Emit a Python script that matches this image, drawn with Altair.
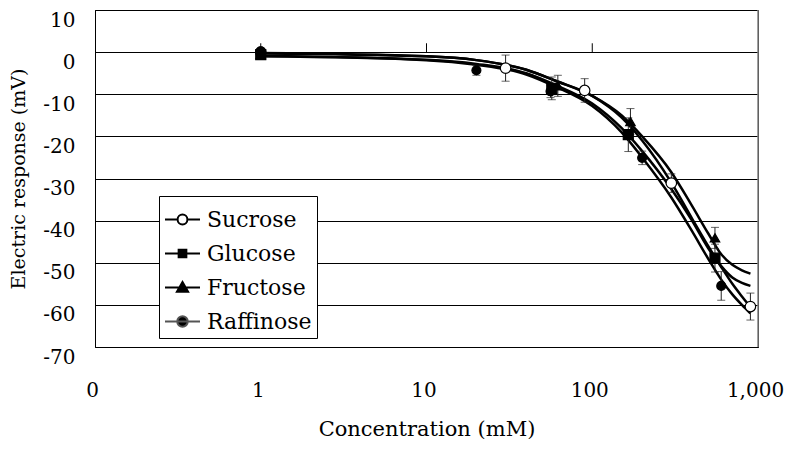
import altair as alt
import pandas as pd

series = ["Sucrose", "Glucose", "Fructose", "Raffinose"]

# measured points (concentration mM, response mV, error mV)
suc_conc = [1, 30, 90, 300, 900]
suc_resp = [0.0, -3.8, -9.1, -31.1, -60.4]
suc_err = [0.0, 3.1, 2.8, 2.2, 3.2]
glu_conc = [1, 57, 165, 550]
glu_resp = [-0.6, -8.6, -19.6, -48.9]
glu_err = [0.0, 2.7, 4.0, 3.3]
fru_conc = [1, 62, 170, 550]
fru_resp = [-0.6, -8.0, -16.5, -44.1]
fru_err = [0.0, 2.5, 3.1, 2.5]
raf_conc = [1, 20, 56, 200, 600]
raf_resp = [0.2, -4.3, -9.3, -25.1, -55.5]
raf_err = [0.0, 1.2, 1.5, 1.6, 3.4]

# fitted curves
curve_conc = [1, 10, 20, 40, 60, 100, 150, 200, 300, 400, 500, 600, 700, 800, 900]
suc_curve = [-0.2, -1.0, -1.9, -4.2, -6.8, -10.4, -15.5, -21.0, -31.0, -39.5, -46.0, -51.0, -55.0, -58.0, -60.5]
glu_curve = [-0.9, -1.8, -2.8, -5.0, -7.8, -12.2, -18.0, -23.5, -32.5, -40.0, -46.5, -50.8, -53.5, -54.8, -55.5]
fru_curve = [-0.3, -1.0, -1.9, -4.2, -6.8, -10.4, -15.0, -20.0, -28.5, -36.5, -43.0, -48.0, -50.5, -51.8, -52.6]
raf_curve = [-1.0, -1.9, -3.0, -5.3, -8.2, -12.8, -19.0, -25.0, -34.5, -42.5, -49.0, -54.0, -57.5, -60.0, -62.0]

x_label_values = [0.1, 1, 10, 100, 1000]
y_label_values = [-70, -60, -50, -40, -30, -20, -10, 0, 10]
zero_tick_conc = [1, 10, 100]
right_edge_conc = [1000]

pts = []
for name, cs, rs, es in [("Sucrose", suc_conc, suc_resp, suc_err),
                         ("Glucose", glu_conc, glu_resp, glu_err),
                         ("Fructose", fru_conc, fru_resp, fru_err),
                         ("Raffinose", raf_conc, raf_resp, raf_err)]:
    for c, r, e in zip(cs, rs, es):
        pts.append({"series": name, "conc": c, "resp": r, "err": e, "lo": r - e, "hi": r + e})
pts = pd.DataFrame(pts)

crv = []
for name, vals in [("Sucrose", suc_curve), ("Glucose", glu_curve),
                   ("Fructose", fru_curve), ("Raffinose", raf_curve)]:
    for c, v in zip(curve_conc, vals):
        crv.append({"series": name, "conc": c, "resp": v})
crv = pd.DataFrame(crv)

ticks = pd.DataFrame({"conc": zero_tick_conc, "y0": [0] * 3, "y1": [2.1] * 3})
edge = pd.DataFrame({"conc": right_edge_conc, "y0": [-70], "y1": [10]})

FONT = "DejaVu Serif"
FS = 20

xscale = alt.Scale(type="log", domain=[0.1, 1000])
yscale = alt.Scale(domain=[-70, 10])

xaxis = alt.Axis(values=x_label_values,
                 labelExpr="datum.value < 1 ? '0' : format(datum.value, ',')",
                 ticks=False, domain=False, grid=False, labelPadding=33, labelOffset=-3,
                 labelFlush=False, labelOverlap=False,
                 title="Concentration (mM)", titlePadding=18, titleFontSize=21)
yaxis = alt.Axis(values=y_label_values, labelExpr="'' + datum.value",
                 ticks=False, domain=True, domainColor="black", grid=True, gridColor="black",
                 gridWidth=1, gridOpacity=1, labelPadding=20, labelBaseline="top", labelOffset=0,
                 labelFlush=False, labelOverlap=False,
                 title="Electric response (mV)", titlePadding=14, titleFontSize=19)

X = alt.X("conc:Q", scale=xscale, axis=xaxis)
Y = alt.Y("resp:Q", scale=yscale, axis=yaxis)

base_pts = alt.Chart(pts)

curves = alt.Chart(crv).mark_line(color="black", strokeWidth=2.5, interpolate="monotone").encode(
    x=X, y=Y, detail="series:N")

zero_ticks = alt.Chart(ticks).mark_rule(color="black", strokeWidth=1).encode(
    x=alt.X("conc:Q", scale=xscale), y=alt.Y("y0:Q", scale=yscale), y2="y1:Q")

right_edge = alt.Chart(edge).mark_rule(color="#808080", strokeWidth=1.5).encode(
    x=alt.X("conc:Q", scale=xscale), y=alt.Y("y0:Q", scale=yscale), y2="y1:Q")

err_pts = base_pts.transform_filter("datum.err > 0")
err_rule = err_pts.mark_rule(color="#222222", strokeWidth=1).encode(
    x=alt.X("conc:Q", scale=xscale), y=alt.Y("lo:Q", scale=yscale), y2="hi:Q")
err_lo = err_pts.mark_tick(color="#222222", thickness=1, size=8, orient="horizontal").encode(
    x=alt.X("conc:Q", scale=xscale), y=alt.Y("lo:Q", scale=yscale))
err_hi = err_pts.mark_tick(color="#222222", thickness=1, size=8, orient="horizontal").encode(
    x=alt.X("conc:Q", scale=xscale), y=alt.Y("hi:Q", scale=yscale))

points = base_pts.mark_point(filled=True, stroke="black", strokeWidth=1.2, opacity=1).encode(
    x=alt.X("conc:Q", scale=xscale),
    y=alt.Y("resp:Q", scale=yscale),
    shape=alt.Shape("series:N", scale=alt.Scale(domain=series,
                    range=["circle", "square", "triangle-up", "circle"]), legend=None),
    fill=alt.Fill("series:N", scale=alt.Scale(domain=series,
                  range=["white", "black", "black", "black"]), legend=None),
    size=alt.Size("series:N", scale=alt.Scale(domain=series, range=[110, 80, 120, 120]), legend=None),
)

leg_paths = [
    "M-1,0H-0.28M0.28,0H1M-0.28,0A0.28,0.28 0 1,0 0.28,0A0.28,0.28 0 1,0 -0.28,0Z",
    "M-1,0H1M-0.22,-0.22H0.22V0.22H-0.22Z",
    "M-1,0H1M0,-0.32L0.32,0.24H-0.32Z",
    "M-1,0H1M-0.3,0A0.3,0.3 0 1,0 0.3,0A0.3,0.3 0 1,0 -0.3,0Z",
]
leg = alt.Legend(title=None, orient="none", legendX=64, legendY=186, fillColor="white",
                 strokeColor="black", padding=5, labelFont=FONT, labelFontSize=22,
                 labelColor="black", symbolSize=1225, symbolStrokeWidth=2,
                 symbolOpacity=1, rowPadding=4, labelOffset=6)
legend_layer = base_pts.transform_filter("datum.conc < 0").mark_point(
    filled=True, strokeWidth=2, opacity=1).encode(
    x=alt.X("conc:Q", scale=xscale),
    y=alt.Y("resp:Q", scale=yscale),
    shape=alt.Shape("series:N", scale=alt.Scale(domain=series, range=leg_paths), legend=leg),
    fill=alt.Fill("series:N", scale=alt.Scale(domain=series,
                  range=["white", "black", "black", "black"]), legend=leg),
    stroke=alt.Stroke("series:N", scale=alt.Scale(domain=series,
                      range=["black", "black", "black", "#555555"]), legend=leg),
)

chart = alt.layer(curves, zero_ticks, right_edge, err_rule, err_lo, err_hi, points,
                  legend_layer).resolve_scale(
    shape="independent", fill="independent", size="independent", stroke="independent"
).properties(
    width=663, height=337,
    background="white",
    autosize=alt.AutoSizeParams(type="none"),
    padding={"left": 87, "top": 2, "right": 26, "bottom": 92},
).configure_view(stroke="black", strokeWidth=1).configure_axis(
    labelFont=FONT, labelFontSize=FS, labelColor="black",
    titleFont=FONT, titleFontWeight="normal", titleColor="black",
)

chart.save("out.html", embed_options={"renderer": "svg", "actions": False})
